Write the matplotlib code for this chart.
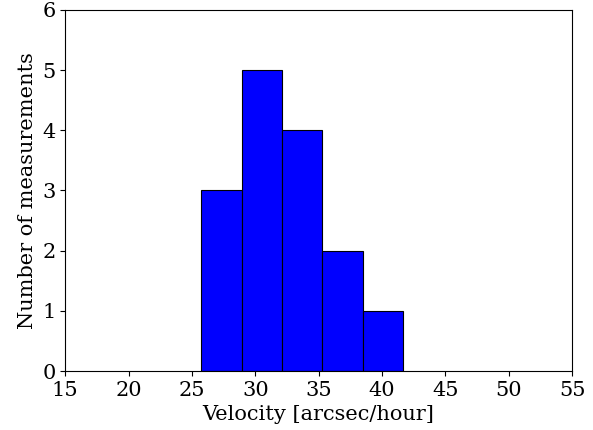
import numpy as np
import matplotlib.pyplot as plt

plt.rcParams['font.family'] = 'DejaVu Serif'

# Histogram data
bin_edges = np.array([25.73, 28.92, 32.11, 35.30, 38.49, 41.67])
counts = np.array([3, 5, 4, 2, 1])

fig = plt.figure(figsize=(5.93, 4.30), dpi=100)
ax = fig.add_axes([0.11, 0.137, 0.8546, 0.84])
ax.bar(bin_edges[:-1], counts, width=np.diff(bin_edges), align='edge',
       color='blue', edgecolor='black', linewidth=0.8)
ax.set_xlim(15, 55)
ax.set_ylim(0, 6)
ax.set_xticks(np.arange(15, 56, 5))
ax.set_yticks(np.arange(0, 7, 1))
ax.tick_params(labelsize=15)
ax.set_xlabel('Velocity [arcsec/hour]', fontsize=15)
ax.set_ylabel('Number of measurements', fontsize=15)
fig.savefig('out.png', dpi=100)
